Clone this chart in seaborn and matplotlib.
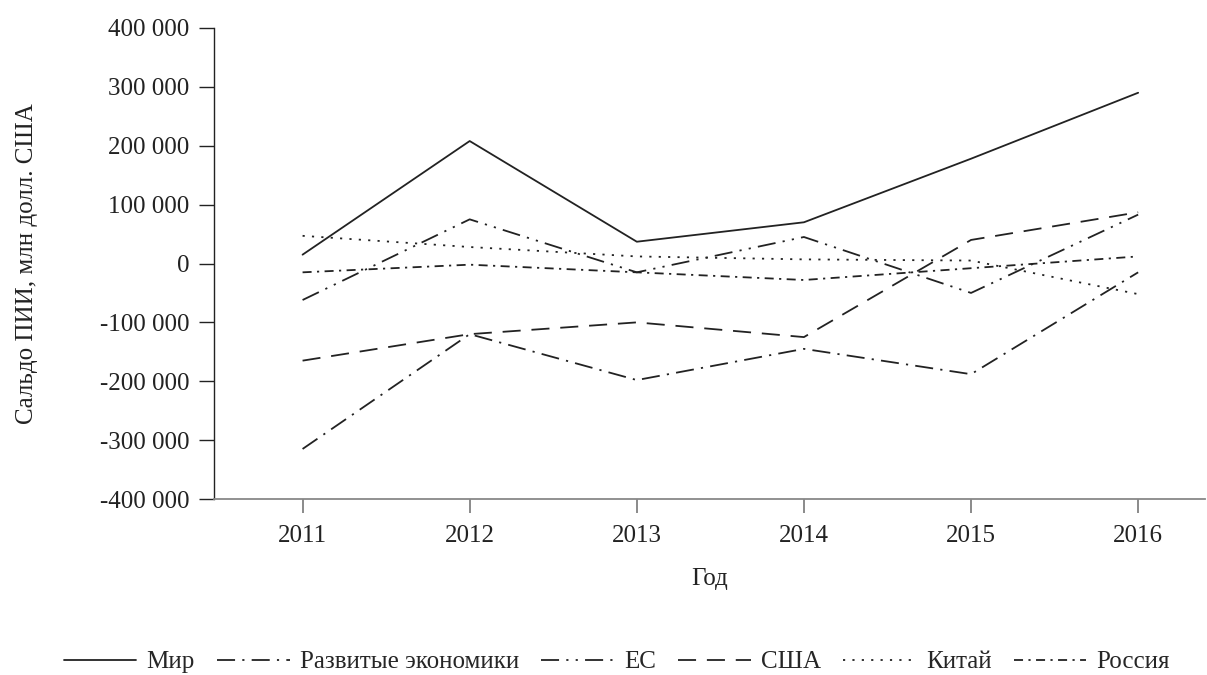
import matplotlib
matplotlib.use("Agg")
from matplotlib import pyplot as plt
from matplotlib.ticker import FuncFormatter
import seaborn as sns
import pandas as pd

years = [2011, 2012, 2013, 2014, 2015, 2016]
series_names = ['Мир', 'Развитые экономики', 'ЕС', 'США', 'Китай', 'Россия']
world = [15000, 208000, 37000, 70000, 178000, 290000]
developed = [-315000, -120000, -198000, -145000, -188000, -15000]
eu = [-62000, 75000, -15000, 45000, -50000, 83000]
usa = [-165000, -120000, -100000, -125000, 40000, 87000]
china = [47000, 28000, 12000, 7000, 5000, -52000]
russia = [-15000, -2000, -15000, -28000, -8000, 12000]
y_ticks = [-400000, -300000, -200000, -100000, 0, 100000, 200000, 300000, 400000]

rows = []
for name, vals in zip(series_names, [world, developed, eu, usa, china, russia]):
    for yr, v in zip(years, vals):
        rows.append({'Год': yr, 'value': v, 'series': name})
df = pd.DataFrame(rows)

sns.set_theme(style='white')
plt.rcParams['font.family'] = ['Liberation Serif', 'DejaVu Serif']

dash_map = {
    'Мир': '',
    'Развитые экономики': (10, 4, 1.2, 4),
    'ЕС': (10, 4, 1.2, 4, 1.2, 4),
    'США': (10, 6),
    'Китай': (1.2, 4),
    'Россия': (5, 3, 1.2, 3),
}

fs = 18
fig = plt.figure(figsize=(12.07, 6.75), dpi=100)
ax = fig.add_axes([214 / 1207, 1 - 499 / 675, (1205 - 214) / 1207, (499 - 28) / 675])
sns.lineplot(data=df, x='Год', y='value', style='series', style_order=series_names,
             dashes=dash_map, color='#222222', linewidth=1.3, ax=ax, legend=True)

ax.set_xlim(2010.47, 2016.4)
ax.set_ylim(-400000, 400000)
ax.set_xticks(years)
ax.set_yticks(y_ticks)
ax.yaxis.set_major_formatter(FuncFormatter(lambda v, p: f'{int(v):,}'.replace(',', ' ')))
ax.tick_params(axis='both', labelsize=fs, labelcolor='#222222', direction='out',
               bottom=True, left=True)
ax.tick_params(axis='x', length=10, width=1.2, color='#777777', pad=9)
ax.tick_params(axis='y', length=11, width=1, color='#222222', pad=7)
ax.spines['top'].set_visible(False)
ax.spines['right'].set_visible(False)
ax.spines['left'].set_color('#222222')
ax.spines['left'].set_linewidth(1)
ax.spines['bottom'].set_color('#888888')
ax.spines['bottom'].set_linewidth(1.3)

ax.set_xlabel('Год', fontsize=fs, color='#222222', labelpad=15)
ax.set_ylabel('Сальдо ПИИ, млн долл. США', fontsize=fs, color='#222222', labelpad=44)

handles, labels = ax.get_legend_handles_labels()
ax.legend(handles, labels, loc='center', bbox_to_anchor=(617 / 1207, 1 - 662 / 675),
          bbox_transform=fig.transFigure, ncol=6, frameon=False, fontsize=fs,
          handlelength=2.9, columnspacing=0.9, handletextpad=0.4)

fig.savefig('out.png', dpi=100)
